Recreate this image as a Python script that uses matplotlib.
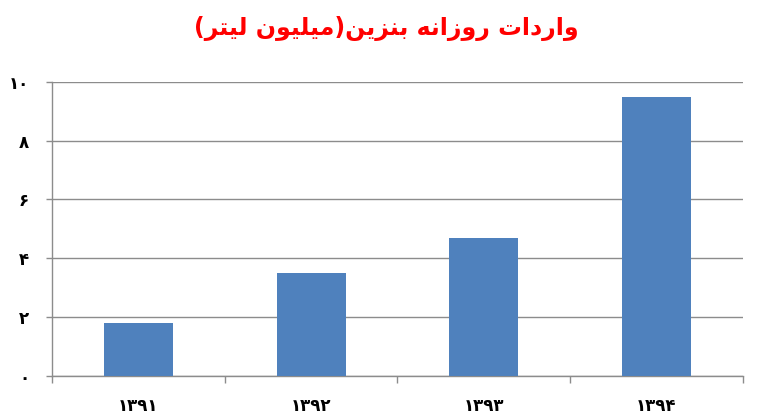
import matplotlib
matplotlib.use("Agg")
import matplotlib.pyplot as plt

# Daten
years = ["۱۳۹۱", "۱۳۹۲", "۱۳۹۳", "۱۳۹۴"]
values = [1.78, 3.50, 4.68, 9.47]
y_ticks = [0, 2, 4, 6, 8, 10]
y_tick_labels = ["۰", "۲", "۴", "۶", "۸", "۱۰"]

# Titel: "واردات روزانه بنزین(میلیون لیتر)" in Darstellungsformen, visuelle Reihenfolge
# (matplotlib macht kein Arabisch-Shaping / Bidi)
w_litr = "\uFEAE\uFE98\uFEF4\uFEDF"                 # لیتر
w_milyun = "\uFEE5\uFEEE\uFEF4\uFEE0\uFEF4\uFEE3"   # میلیون
w_benzin = "\uFEE6\uFEF3\uFEB0\uFEE8\uFE91"         # بنزین
w_ruzane = "\uFEEA\uFEE7\uFE8D\uFEAF\uFEED\uFEAD"   # روزانه
w_vared = "\uFE95\uFE8D\uFEA9\uFEAD\uFE8D\uFEED"    # واردات
title = "(" + w_litr + " " + w_milyun + ")" + w_benzin + " " + w_ruzane + " " + w_vared

bar_color = "#4F81BD"
grid_color = "#8C8C8C"

fig = plt.figure(figsize=(7.65, 4.18), dpi=100)
ax = fig.add_axes([0.068, 0.101, 0.903, 0.7034])

x = list(range(len(years)))
ax.bar(x, values, width=0.4, color=bar_color, zorder=3)

ax.set_xlim(-0.5, len(years) - 0.5)
ax.set_ylim(0, 10)

ax.set_yticks(y_ticks)
ax.set_yticklabels(y_tick_labels, fontsize=12, fontweight="bold")
ax.set_xticks(x)
ax.set_xticklabels(years, fontsize=12, fontweight="bold")
ax.set_xticks([i - 0.5 for i in range(len(years) + 1)], minor=True)

ax.tick_params(axis="x", which="major", length=0, pad=15)
ax.tick_params(axis="x", which="minor", length=5, color=grid_color, width=1)
ax.tick_params(axis="y", length=4.5, color=grid_color, width=1, pad=12)

ax.yaxis.grid(True, color=grid_color, linewidth=1, zorder=0)
ax.set_axisbelow(True)

for s in ["top", "right"]:
    ax.spines[s].set_visible(False)
for s in ["left", "bottom"]:
    ax.spines[s].set_color(grid_color)
    ax.spines[s].set_linewidth(1)

fig.text(0.505, 0.933, title, color="#FF0000", fontsize=17, fontweight="bold",
         ha="center", va="center")

fig.savefig("out.png", dpi=100)
